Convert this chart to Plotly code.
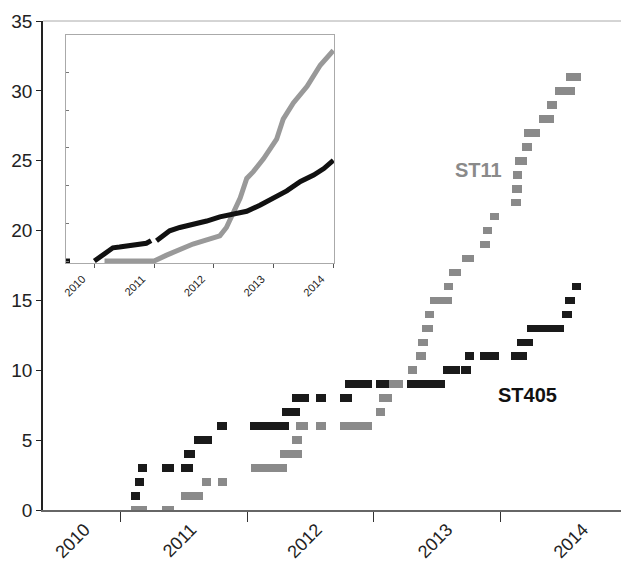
import plotly.graph_objects as go

# ---- main chart: cumulative counts, each mark spans [start, end] (decimal years)
st405_start = [2011.083, 2011.114, 2011.136, 2011.325, 2011.479, 2011.503, 2011.580, 2011.763,
               2012.027, 2012.276, 2012.358, 2012.547, 2012.731, 2012.770, 2013.015, 2013.265,
               2013.546, 2013.691, 2013.717, 2013.835, 2014.085, 2014.132, 2014.211, 2014.484,
               2014.511, 2014.563]
st405_end = [2011.159, 2011.188, 2011.211, 2011.427, 2011.574, 2011.588, 2011.722, 2011.842,
             2012.329, 2012.418, 2012.487, 2012.626, 2012.831, 2012.989, 2013.120, 2013.559,
             2013.683, 2013.770, 2013.790, 2013.985, 2014.211, 2014.256, 2014.500, 2014.561,
             2014.584, 2014.637]
st405_count = [1, 2, 3, 3, 3, 4, 5, 6, 6, 7, 8, 8, 8, 9, 9, 9, 10, 10, 11, 11, 11, 12, 13, 14, 15, 16]

st11_start = [2011.083, 2011.325, 2011.479, 2011.648, 2011.769, 2012.029, 2012.256, 2012.358,
              2012.384, 2012.547, 2012.731, 2013.020, 2013.039, 2013.120, 2013.270, 2013.336,
              2013.349, 2013.380, 2013.401, 2013.441, 2013.554, 2013.591, 2013.696, 2013.835,
              2013.861, 2013.914, 2014.085, 2014.093, 2014.098, 2014.117, 2014.172, 2014.182,
              2014.303, 2014.369, 2014.432, 2014.519]
st11_end = [2011.211, 2011.427, 2011.653, 2011.719, 2011.840, 2012.313, 2012.431, 2012.431,
            2012.484, 2012.621, 2012.986, 2013.091, 2013.144, 2013.230, 2013.341, 2013.409,
            2013.427, 2013.467, 2013.475, 2013.617, 2013.625, 2013.685, 2013.790, 2013.914,
            2013.935, 2013.985, 2014.158, 2014.166, 2014.172, 2014.208, 2014.248, 2014.308,
            2014.421, 2014.445, 2014.584, 2014.637]
st11_count = [0, 0, 1, 2, 2, 3, 4, 5, 6, 6, 6, 7, 8, 9, 10, 11, 12, 13, 14, 15, 16, 17, 18,
              19, 20, 21, 22, 23, 24, 25, 26, 27, 28, 29, 30, 31]

main_year_labels = ["2010", "2011", "2012", "2013", "2014"]
main_label_pos = [2010.72, 2011.56, 2012.55, 2013.58, 2014.65]
main_year_ticks = [2011, 2012, 2013, 2014]
y_ticks = [0, 5, 10, 15, 20, 25, 30, 35]

# ---- inset curves
inset_year_st405 = [2010.0, 2010.08, 2010.2, 2010.31, 2010.42, 2010.64, 2010.87, 2010.95, None,
                    2011.04, 2011.15, 2011.26, 2011.43, 2011.65, 2011.88, 2012.1, 2012.32,
                    2012.55, 2012.77, 2013.0, 2013.22, 2013.45, 2013.67, 2013.84, 2014.0]
inset_st405 = [0, 1.0, 2.3, 3.5, 3.7, 4.1, 4.7, 5.4, None, 5.4, 6.7, 8.0, 8.9, 9.6, 10.6, 11.7,
               12.3, 13.2, 14.8, 16.9, 18.6, 21.1, 22.8, 24.5, 26.7]
inset_stray_year = [2009.55]
inset_stray_val = [0]
inset_year_st11 = [2010.17, 2011.0, 2011.2, 2011.43, 2011.65, 2011.88, 2012.1, 2012.21, 2012.32,
                   2012.44, 2012.55, 2012.66, 2012.83, 2013.05, 2013.16, 2013.33, 2013.56,
                   2013.78, 2014.0]
inset_st11 = [0, 0, 1.5, 3.2, 4.5, 5.6, 6.7, 8.9, 12.3, 16.7, 21.9, 23.7, 27.1, 32.3, 37.6,
              41.9, 46.3, 51.9, 55.8]
inset_years = [2010, 2011, 2012, 2013, 2014]
inset_year_labels = ["2010", "2011", "2012", "2013", "2014"]

BLACK = "#1a1a1a"
GRAY = "#8a8a8a"
FONT = "Liberation Sans, Arial, sans-serif"

fig = go.Figure()

fig.add_trace(go.Bar(
    orientation="h", base=st11_start,
    x=[e - s for s, e in zip(st11_start, st11_end)], y=st11_count,
    width=0.55, marker=dict(color=GRAY, line=dict(width=0)), name="ST11",
    xaxis="x", yaxis="y"))
fig.add_trace(go.Bar(
    orientation="h", base=st405_start,
    x=[e - s for s, e in zip(st405_start, st405_end)], y=st405_count,
    width=0.55, marker=dict(color=BLACK, line=dict(width=0)), name="ST405",
    xaxis="x", yaxis="y"))

fig.add_trace(go.Scatter(x=inset_year_st11, y=inset_st11, mode="lines",
                         line=dict(color="#999999", width=5), xaxis="x2", yaxis="y2"))
fig.add_trace(go.Scatter(x=inset_year_st405, y=inset_st405, mode="lines",
                         line=dict(color="#111111", width=5), xaxis="x2", yaxis="y2",
                         connectgaps=False))
fig.add_trace(go.Scatter(x=inset_stray_year, y=inset_stray_val, mode="markers",
                         marker=dict(symbol="square", size=5, color="#111111"),
                         cliponaxis=False, xaxis="x2", yaxis="y2"))

# the page body adds an 8px margin, so the figure is 8px smaller and shifted
fig.update_layout(
    width=621, height=557,
    margin=dict(l=35, r=3, t=13, b=55),
    paper_bgcolor="white", plot_bgcolor="white",
    showlegend=False, barmode="overlay", bargap=0,
    font=dict(family=FONT, color="#222222"),
    xaxis=dict(
        range=[2010.39, 2014.99], showgrid=False, zeroline=False,
        showline=True, linecolor="#666666", linewidth=2,
        tickmode="array", tickvals=main_label_pos, ticktext=main_year_labels,
        ticks="", tickangle=-45, tickfont=dict(size=18, color="#222222"),
        minor=dict(tickmode="array", tickvals=main_year_ticks, ticks="outside",
                   ticklen=10, tickwidth=1, tickcolor="#333333"),
    ),
    yaxis=dict(
        range=[0, 35], showgrid=False, zeroline=False,
        showline=True, linecolor="#222222", linewidth=1.5,
        tickmode="array", tickvals=y_ticks, ticks="outside", ticklen=5,
        tickcolor="#222222", tickfont=dict(size=19, color="#222222"),
    ),
    xaxis2=dict(
        domain=[0.0389, 0.4991], anchor="y2", range=[2009.52, 2014.01],
        showgrid=False, zeroline=False, showline=True, mirror=True,
        linecolor="#aaaaaa", linewidth=1,
        tickmode="array", tickvals=inset_years, ticktext=inset_year_labels,
        ticks="outside", ticklen=4, tickcolor="#555555", tickangle=-45,
        ticklabelshift=-12, tickfont=dict(size=11, color="#222222"),
    ),
    yaxis2=dict(
        domain=[0.5045, 0.972], anchor="x2", range=[-0.6, 60],
        showgrid=False, zeroline=False, showline=True, mirror=True,
        linecolor="#aaaaaa", linewidth=1,
        tickmode="array", tickvals=[0, 10, 20, 30, 40, 50, 60], ticks="inside",
        ticklen=3, tickcolor="#777777", showticklabels=False,
    ),
    shapes=[dict(type="line", xref="paper", yref="paper", x0=0, x1=1.01, y0=1, y1=1,
                 line=dict(color="#aaaaaa", width=1))],
    annotations=[
        dict(x=2013.827, y=24.3, xref="x", yref="y", text="<b>ST11</b>", showarrow=False,
             font=dict(size=20, color="#8a8a8a", family=FONT)),
        dict(x=2014.21, y=8.2, xref="x", yref="y", text="<b>ST405</b>", showarrow=False,
             font=dict(size=20, color="#111111", family=FONT)),
    ],
)

fig.write_html("out.html")
